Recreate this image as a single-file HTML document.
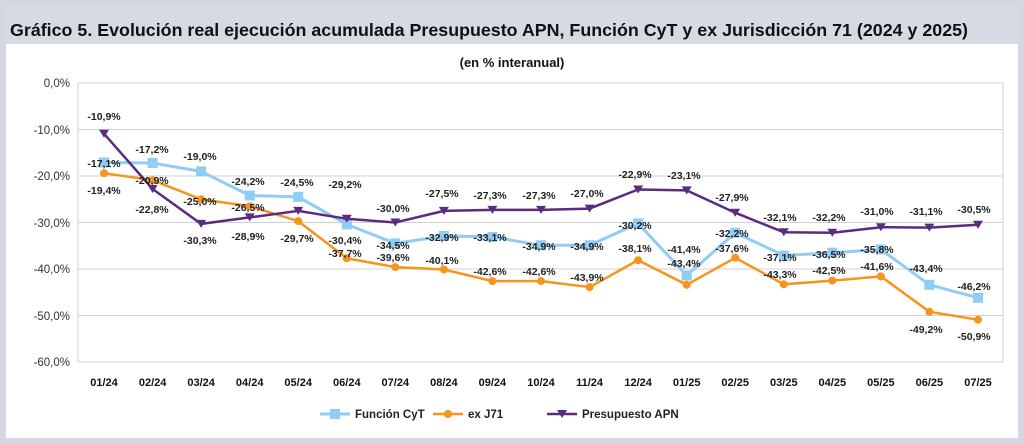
<!DOCTYPE html>
<html><head><meta charset="utf-8"><style>
body{margin:0;width:1024px;height:444px;background:#d3d7e1;overflow:hidden}
svg{display:block}
</style></head><body>
<svg width="1024" height="444" xmlns="http://www.w3.org/2000/svg" font-family="Liberation Sans, sans-serif">
<rect x="0" y="0" width="1024" height="444" fill="#d3d7e1"/>
<rect x="6" y="4" width="1012" height="40" fill="#d6dae3"/>
<rect x="6" y="44" width="1012" height="394" fill="#ffffff"/>
<text x="10" y="36" font-size="17.8" font-weight="bold" fill="#111" textLength="958" lengthAdjust="spacingAndGlyphs">Gráfico 5. Evolución real ejecución acumulada Presupuesto APN, Función CyT y ex Jurisdicción 71 (2024 y 2025)</text>
<text x="512" y="67" font-size="13" font-weight="bold" text-anchor="middle" fill="#111">(en % interanual)</text>
<g stroke="#d0d0d0" stroke-width="1">
<line x1="78" y1="83" x2="1003" y2="83"/><line x1="78" y1="129.5" x2="1003" y2="129.5"/>
<line x1="78" y1="176" x2="1003" y2="176"/><line x1="78" y1="222.5" x2="1003" y2="222.5"/>
<line x1="78" y1="269" x2="1003" y2="269"/><line x1="78" y1="315.5" x2="1003" y2="315.5"/>
<line x1="78" y1="362" x2="1003" y2="362"/><line x1="78" y1="83" x2="78" y2="362"/>
<line x1="1003" y1="83" x2="1003" y2="362"/>
</g>
<g font-size="11.5" fill="#333" text-anchor="end">
<text x="70" y="87">0,0%</text><text x="70" y="134">-10,0%</text><text x="70" y="180">-20,0%</text>
<text x="70" y="227">-30,0%</text><text x="70" y="273">-40,0%</text><text x="70" y="320">-50,0%</text><text x="70" y="366">-60,0%</text>
</g>
<g font-size="11" font-weight="bold" fill="#111" text-anchor="middle">
<text x="104" y="386">01/24</text><text x="152.6" y="386">02/24</text><text x="201.1" y="386">03/24</text><text x="249.7" y="386">04/24</text><text x="298.2" y="386">05/24</text><text x="346.8" y="386">06/24</text><text x="395.3" y="386">07/24</text><text x="443.9" y="386">08/24</text><text x="492.4" y="386">09/24</text><text x="541" y="386">10/24</text><text x="589.6" y="386">11/24</text><text x="638.1" y="386">12/24</text><text x="686.7" y="386">01/25</text><text x="735.2" y="386">02/25</text><text x="783.8" y="386">03/25</text><text x="832.3" y="386">04/25</text><text x="880.9" y="386">05/25</text><text x="929.4" y="386">06/25</text><text x="978" y="386">07/25</text>
</g>
<polyline fill="none" stroke="#8fcdf4" stroke-width="3" points="104,162.5 152.6,163 201.1,171.4 249.7,195.5 298.2,196.9 346.8,224.4 395.3,243.4 443.9,236 492.4,236.9 541,245.3 589.6,245.3 638.1,223.4 686.7,275.5 735.2,232.7 783.8,255.5 832.3,252.7 880.9,249.5 929.4,284.8 978,297.8"/>
<g fill="#8fcdf4">
<rect x="99" y="157.5" width="10" height="10"/><rect x="147.6" y="158" width="10" height="10"/><rect x="196.1" y="166.4" width="10" height="10"/><rect x="244.7" y="190.5" width="10" height="10"/><rect x="293.2" y="191.9" width="10" height="10"/><rect x="341.8" y="219.4" width="10" height="10"/><rect x="390.3" y="238.4" width="10" height="10"/><rect x="438.9" y="231" width="10" height="10"/><rect x="487.4" y="231.9" width="10" height="10"/><rect x="536" y="240.3" width="10" height="10"/><rect x="584.6" y="240.3" width="10" height="10"/><rect x="633.1" y="218.4" width="10" height="10"/><rect x="681.7" y="270.5" width="10" height="10"/><rect x="730.2" y="227.7" width="10" height="10"/><rect x="778.8" y="250.5" width="10" height="10"/><rect x="827.3" y="247.7" width="10" height="10"/><rect x="875.9" y="244.5" width="10" height="10"/><rect x="924.4" y="279.8" width="10" height="10"/><rect x="973" y="292.8" width="10" height="10"/>
</g>
<polyline fill="none" stroke="#f7941d" stroke-width="2.5" points="104,173.2 152.6,180.2 201.1,199.3 249.7,206.2 298.2,221.1 346.8,258.3 395.3,267.1 443.9,269.5 492.4,281.1 541,281.1 589.6,287.1 638.1,260.2 686.7,284.8 735.2,257.8 783.8,284.3 832.3,280.6 880.9,276.4 929.4,311.8 978,319.7"/>
<g fill="#f7941d">
<circle cx="104" cy="173.2" r="4"/><circle cx="152.6" cy="180.2" r="4"/><circle cx="201.1" cy="199.3" r="4"/><circle cx="249.7" cy="206.2" r="4"/><circle cx="298.2" cy="221.1" r="4"/><circle cx="346.8" cy="258.3" r="4"/><circle cx="395.3" cy="267.1" r="4"/><circle cx="443.9" cy="269.5" r="4"/><circle cx="492.4" cy="281.1" r="4"/><circle cx="541" cy="281.1" r="4"/><circle cx="589.6" cy="287.1" r="4"/><circle cx="638.1" cy="260.2" r="4"/><circle cx="686.7" cy="284.8" r="4"/><circle cx="735.2" cy="257.8" r="4"/><circle cx="783.8" cy="284.3" r="4"/><circle cx="832.3" cy="280.6" r="4"/><circle cx="880.9" cy="276.4" r="4"/><circle cx="929.4" cy="311.8" r="4"/><circle cx="978" cy="319.7" r="4"/>
</g>
<polyline fill="none" stroke="#5b2b7e" stroke-width="2.5" points="104,133.7 152.6,189 201.1,223.9 249.7,217.4 298.2,210.9 346.8,218.8 395.3,222.5 443.9,210.9 492.4,209.9 541,209.9 589.6,208.6 638.1,189.5 686.7,190.4 735.2,212.7 783.8,232.3 832.3,232.7 880.9,227.2 929.4,227.6 978,224.8"/>
<g fill="#5b2b7e">
<path d="M99,129.7h10l-5,8z"/><path d="M147.6,185h10l-5,8z"/><path d="M196.1,219.9h10l-5,8z"/><path d="M244.7,213.4h10l-5,8z"/><path d="M293.2,206.9h10l-5,8z"/><path d="M341.8,214.8h10l-5,8z"/><path d="M390.3,218.5h10l-5,8z"/><path d="M438.9,206.9h10l-5,8z"/><path d="M487.4,205.9h10l-5,8z"/><path d="M536,205.9h10l-5,8z"/><path d="M584.6,204.6h10l-5,8z"/><path d="M633.1,185.5h10l-5,8z"/><path d="M681.7,186.4h10l-5,8z"/><path d="M730.2,208.7h10l-5,8z"/><path d="M778.8,228.3h10l-5,8z"/><path d="M827.3,228.7h10l-5,8z"/><path d="M875.9,223.2h10l-5,8z"/><path d="M924.4,223.6h10l-5,8z"/><path d="M973,220.8h10l-5,8z"/>
</g>
<g font-size="10.5" font-weight="bold" fill="#222" text-anchor="middle">
<text x="104" y="120">-10,9%</text><text x="104" y="167">-17,1%</text><text x="104" y="194">-19,4%</text>
<text x="152" y="153">-17,2%</text><text x="152" y="184">-20,9%</text><text x="152" y="213">-22,8%</text>
<text x="200" y="160">-19,0%</text><text x="200" y="205">-25,0%</text><text x="200" y="244">-30,3%</text>
<text x="248" y="185">-24,2%</text><text x="248" y="211">-26,5%</text><text x="248" y="240">-28,9%</text>
<text x="297" y="186">-24,5%</text><text x="297" y="242">-29,7%</text>
<text x="345" y="188">-29,2%</text><text x="345" y="244">-30,4%</text><text x="345" y="257">-37,7%</text>
<text x="393" y="212">-30,0%</text><text x="393" y="249">-34,5%</text><text x="393" y="261">-39,6%</text>
<text x="442" y="197">-27,5%</text><text x="442" y="241">-32,9%</text><text x="442" y="264">-40,1%</text>
<text x="490" y="199">-27,3%</text><text x="490" y="241">-33,1%</text><text x="490" y="275">-42,6%</text>
<text x="539" y="199">-27,3%</text><text x="539" y="250">-34,9%</text><text x="539" y="275">-42,6%</text>
<text x="587" y="197">-27,0%</text><text x="587" y="250">-34,9%</text><text x="587" y="281">-43,9%</text>
<text x="635" y="178">-22,9%</text><text x="635" y="229">-30,2%</text><text x="635" y="252">-38,1%</text>
<text x="684" y="179">-23,1%</text><text x="684" y="253">-41,4%</text><text x="684" y="267">-43,4%</text>
<text x="732" y="201">-27,9%</text><text x="732" y="237">-32,2%</text><text x="732" y="252">-37,6%</text>
<text x="780" y="221">-32,1%</text><text x="780" y="261">-37,1%</text><text x="780" y="278">-43,3%</text>
<text x="829" y="221">-32,2%</text><text x="829" y="258">-36,5%</text><text x="829" y="274">-42,5%</text>
<text x="877" y="215">-31,0%</text><text x="877" y="253">-35,8%</text><text x="877" y="270">-41,6%</text>
<text x="926" y="215">-31,1%</text><text x="926" y="272">-43,4%</text><text x="926" y="333">-49,2%</text>
<text x="974" y="213">-30,5%</text><text x="974" y="290">-46,2%</text><text x="974" y="340">-50,9%</text>
</g>
<g font-size="11.5" font-weight="bold" fill="#222">
<line x1="320" y1="414" x2="350" y2="414" stroke="#8fcdf4" stroke-width="3"/><rect x="330" y="409" width="10" height="10" fill="#8fcdf4"/>
<text x="355" y="418">Función CyT</text>
<line x1="433" y1="414" x2="463" y2="414" stroke="#f7941d" stroke-width="2.5"/><circle cx="448" cy="414" r="4" fill="#f7941d"/>
<text x="468" y="418">ex J71</text>
<line x1="547" y1="414" x2="577" y2="414" stroke="#5b2b7e" stroke-width="2.5"/><path d="M557,410h10l-5,8z" fill="#5b2b7e"/>
<text x="582" y="418">Presupuesto APN</text>
</g>
</svg>
</body></html>
